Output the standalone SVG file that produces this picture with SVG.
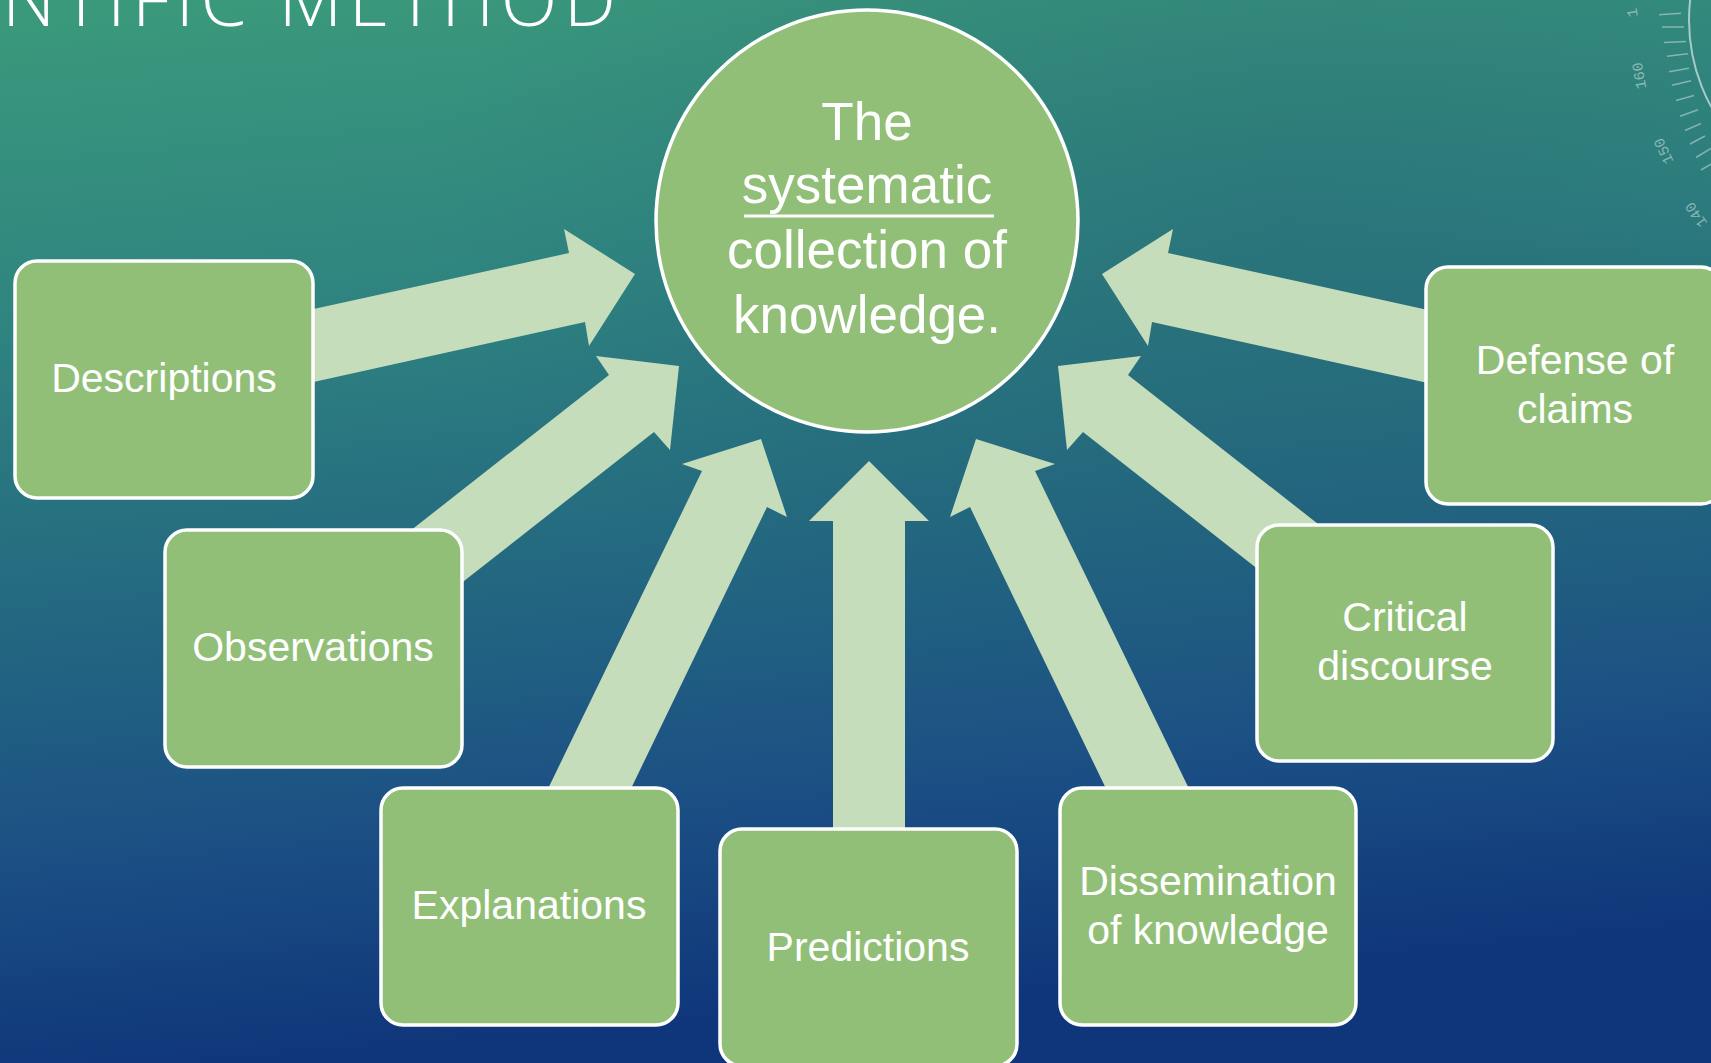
<svg xmlns="http://www.w3.org/2000/svg" width="1711" height="1063" viewBox="0 0 1711 1063">
<defs>
<linearGradient id="bg" x1="0" y1="0" x2="0.15" y2="1">
<stop offset="0" stop-color="#3b9a7b"/>
<stop offset="0.3" stop-color="#2f8480"/>
<stop offset="0.55" stop-color="#246a80"/>
<stop offset="0.8" stop-color="#1b4f84"/>
<stop offset="1" stop-color="#0f367a"/>
</linearGradient>
<radialGradient id="shade" cx="0.75" cy="0.2" r="0.5">
<stop offset="0" stop-color="#1e4f6a" stop-opacity="0.25"/>
<stop offset="1" stop-color="#1e4f6a" stop-opacity="0"/>
</radialGradient>
<style>
.box{fill:#92bf78;stroke:#ffffff;stroke-width:3.5}
.lbl{font-family:"Liberation Sans",Arial,sans-serif;font-size:41px;fill:#ffffff;text-anchor:middle}
.big{font-family:"Liberation Sans",Arial,sans-serif;font-size:53px;fill:#ffffff;text-anchor:middle}
.arrow{fill:#c6ddbc}
.tick{stroke:#d8e8e4;stroke-opacity:0.5;stroke-width:1.5}
.dnum{font-family:"Liberation Mono",monospace;font-size:15px;fill:#d8e8e4;fill-opacity:0.55;text-anchor:middle}
</style>
</defs>
<rect x="0" y="0" width="1711" height="1063" fill="url(#bg)"/>
<rect x="0" y="0" width="1711" height="1063" fill="url(#shade)"/>

<g id="title">
<text x="2" y="26" font-family="'Open Sans','DejaVu Sans',sans-serif" font-weight="300" font-size="74" fill="#ffffff" textLength="614" lengthAdjust="spacing">NTIFIC METHOD</text>
</g>

<g id="dial">
<circle cx="1870" cy="20" r="181" fill="none" stroke="#e6f0ee" stroke-opacity="0.65" stroke-width="2"/>
<line class="tick" x1="1659" y1="14.8" x2="1681" y2="13.2"/>
<line class="tick" x1="1662" y1="27.1" x2="1684" y2="26.9"/>
<line class="tick" x1="1664" y1="42.6" x2="1686" y2="41.4"/>
<line class="tick" x1="1667" y1="56.2" x2="1688" y2="53.8"/>
<line class="tick" x1="1669" y1="71.8" x2="1689" y2="68.2"/>
<line class="tick" x1="1672" y1="85.3" x2="1691" y2="80.7"/>
<line class="tick" x1="1676" y1="100.5" x2="1694" y2="95.5"/>
<line class="tick" x1="1680" y1="116.3" x2="1698" y2="109.7"/>
<line class="tick" x1="1685" y1="130.5" x2="1701" y2="123.5"/>
<line class="tick" x1="1690" y1="144" x2="1705" y2="136"/>
<line class="tick" x1="1696" y1="157.5" x2="1711" y2="148.5"/>
<line class="tick" x1="1701" y1="170" x2="1713" y2="163"/>
<text class="dnum" transform="translate(1637,12) rotate(-98)">1</text>
<text class="dnum" transform="translate(1644,75) rotate(-100)">160</text>
<text class="dnum" transform="translate(1668,149) rotate(-115)">150</text>
<text class="dnum" transform="translate(1700,212) rotate(-125)">140</text>
</g>

<g id="connectors">
<polygon class="arrow" points="300,312 569,253 564,229 635,274 589,346 585,322 300,385"/>
<polygon class="arrow" points="373,560 609,375 596,356 679,366 670,450 654,432 418,617"/>
<polygon class="arrow" points="528,830 702,471 682,464 761,439 787,517 767,507 611,830"/>
<polygon class="arrow" points="833,850 833,521 809,521 869,461 929,521 905,521 905,850"/>
<polygon class="arrow" points="1209,830 1035,471 1055,464 976,439 950,517 970,507 1126,830"/>
<polygon class="arrow" points="1364,560 1128,375 1141,356 1058,366 1067,450 1083,432 1319,617"/>
<polygon class="arrow" points="1437,312 1168,253 1173,229 1102,274 1148,346 1152,322 1437,385"/>
</g>

<g id="node-center">
<circle cx="867" cy="221" r="211" fill="#92bf78" stroke="#ffffff" stroke-width="3.5"/>
<text class="big" x="867" y="140">The</text>
<text class="big" x="867" y="203">systematic</text>
<line x1="744" y1="216" x2="994" y2="216" stroke="#ffffff" stroke-width="3"/>
<text class="big" x="867" y="268">collection of</text>
<text class="big" x="867" y="333">knowledge.</text>
</g>

<g id="node-descriptions">
<rect class="box" x="15" y="261" width="298" height="237" rx="22"/>
<text class="lbl" x="164" y="392">Descriptions</text>
</g>

<g id="node-observations">
<rect class="box" x="165" y="530" width="297" height="237" rx="22"/>
<text class="lbl" x="313" y="661">Observations</text>
</g>

<g id="node-explanations">
<rect class="box" x="381" y="788" width="297" height="237" rx="22"/>
<text class="lbl" x="529" y="919">Explanations</text>
</g>

<g id="node-predictions">
<rect class="box" x="720" y="829" width="297" height="237" rx="22"/>
<text class="lbl" x="868" y="961">Predictions</text>
</g>

<g id="node-dissemination">
<rect class="box" x="1060" y="788" width="296" height="237" rx="22"/>
<text class="lbl" x="1208" y="895">Dissemination</text>
<text class="lbl" x="1208" y="944">of knowledge</text>
</g>

<g id="node-critical">
<rect class="box" x="1257" y="525" width="296" height="236" rx="22"/>
<text class="lbl" x="1405" y="631">Critical</text>
<text class="lbl" x="1405" y="680">discourse</text>
</g>

<g id="node-defense">
<rect class="box" x="1426" y="267" width="297" height="237" rx="22"/>
<text class="lbl" x="1575" y="374">Defense of</text>
<text class="lbl" x="1575" y="423">claims</text>
</g>
</svg>
